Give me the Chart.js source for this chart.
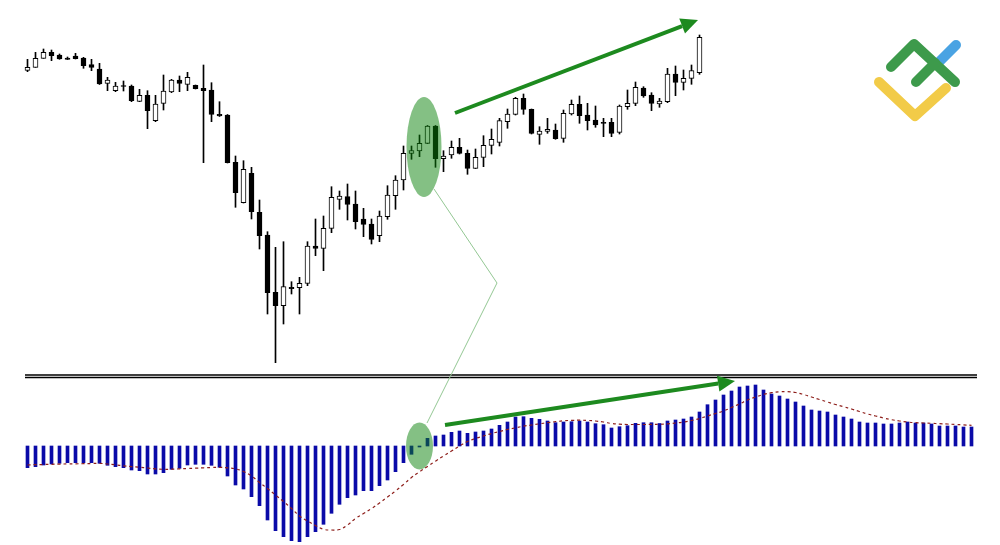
<!DOCTYPE html>
<html>
<head>
<meta charset="utf-8">
<script src="https://cdn.jsdelivr.net/npm/chart.js@4.4.1/dist/chart.umd.min.js"></script>
<style>
  html, body { margin: 0; padding: 0; background: #ffffff; }
  canvas { display: block; }
</style>
</head>
<body>
<canvas id="chart" width="1000" height="545"></canvas>
<script>
// candles (price points)
const open = [
  329.7, 332.7, 341.7, 347.7, 345, 342, 344, 342, 335.3, 331,
  316.7, 309.3, 314.5, 314, 298.7, 304.7, 279.3, 296.7, 308, 320,
  315.7, 314.7, 311.7, 310, 285.7, 285, 237.7, 197.3, 226.7, 187.7,
  165, 107.7, 94.3, 112.7, 112.3, 116.7, 154, 151.7, 171.7, 200.7,
  203.3, 196, 181, 176, 164.3, 183.3, 204.3, 220, 246.7, 249,
  256.7, 274, 241.3, 245, 252.7, 246.7, 231.7, 242.7, 254.7, 257.7,
  278.3, 285.7, 301.7, 290.7, 265.7, 268.5, 270, 261.7, 286, 295.7,
  285, 280, 277.7, 277.7, 267.7, 293.3, 296.7, 312, 305, 296,
  298.3, 326, 317.7, 321.7, 327.3
];
const high = [
  340.7, 347.7, 351, 350, 346, 343, 346.7, 342.7, 340.7, 336.7,
  322.7, 317.7, 319, 315, 310.7, 309.3, 304.7, 325, 320.7, 324,
  327.7, 315, 335, 317.3, 298.3, 285.5, 244, 239.3, 232.7, 200,
  168.3, 152.7, 158.3, 118.3, 122.7, 158.3, 181, 184, 213.3, 209,
  216, 209, 191.7, 181, 189, 214.3, 224.3, 254, 254, 265,
  274.5, 274.5, 249.3, 259, 261.7, 250, 251, 264.3, 271, 281.7,
  291, 302.7, 306, 291, 273.3, 281.7, 276, 290, 300, 304,
  296.7, 294, 281.7, 281.7, 295, 310, 318, 313.3, 307.3, 301.7,
  331.7, 334, 330, 335, 365
];
const low = [
  328.3, 332.7, 341.7, 339.3, 340.7, 340.5, 341, 331.7, 329.3, 315.5,
  309.3, 308.3, 309, 298.3, 298.3, 271.3, 278.3, 290, 307.3, 308.3,
  309.3, 311, 237.3, 278.3, 283.5, 237, 192.7, 197, 181, 151,
  86, 37.3, 76, 106, 86, 114.3, 144.3, 129.3, 167.3, 190.7,
  180, 171, 163.3, 156, 158.3, 180.7, 190.7, 210, 240.7, 243.3,
  256.5, 232.7, 228.3, 241.7, 246, 225.7, 231.5, 233.3, 246, 254,
  271.7, 285, 285.7, 266, 255.7, 266.7, 260.7, 257.7, 285, 276.7,
  270, 272.7, 263.3, 263.3, 266, 290.7, 294.3, 302.7, 289.3, 292.7,
  297.3, 304.3, 310, 315.7, 325.7
];
const close = [
  332.7, 341.7, 347.7, 344.3, 341, 340.7, 341.3, 334.3, 332.7, 316,
  320, 314, 313.5, 299.3, 304.7, 289.3, 296, 309, 320, 316.7,
  322.7, 311.3, 309.3, 285.7, 284, 237.3, 207.3, 230.7, 188.3, 164.3,
  107.3, 94.3, 113.3, 111.3, 116.7, 154, 151.7, 171.7, 202.7, 204,
  195.7, 178.3, 175.7, 160.7, 184, 205, 220, 246.7, 249.3, 256.7,
  274, 241.3, 244, 252.7, 246.7, 231.7, 242.7, 254.7, 260.7, 279.3,
  286, 301.7, 290.7, 266.7, 269, 270.7, 261.3, 286.7, 295.7, 284.3,
  279.3, 275, 276.7, 266.7, 294, 296.7, 312.7, 304, 296.7, 299,
  326, 317.7, 321.7, 329.3, 362.7
];

// MACD histogram and signal line
const macd = [
  -21.7, -20.7, -19, -18, -17.3, -16.7, -16.7, -16.7, -16.7, -17.3,
  -19.3, -20.7, -21.7, -24, -24.7, -28, -28, -26.7, -23.3, -22.3,
  -19, -18.3, -18.3, -19.3, -21.3, -30, -39, -43, -50.7, -59.7,
  -74, -84.7, -90.7, -94.7, -95.7, -90.7, -85.7, -78.3, -67.3, -58.3,
  -51.7, -49, -44.7, -44.7, -39.7, -34, -25.7, -16.7, -8.3, -1,
  7.7, 10, 11, 13.7, 15, 12.7, 14, 15, 17, 20.7,
  24, 29, 29.3, 27.7, 26.7, 25, 23.3, 24, 24.3, 25,
  24, 22.3, 21.3, 18, 19.3, 20.3, 22.7, 23.3, 23.3, 22.5,
  25, 26, 27, 29, 34, 41.3, 46, 51, 55, 59,
  60, 61, 56, 52, 50, 47, 44, 40, 36, 35,
  34, 31, 29, 27, 24, 23, 23, 22, 22, 23,
  24, 23, 23, 22, 20, 20, 20, 19, 19
];
const signal = [
  -19, -18.7, -18.5, -18.3, -18.1, -17.9, -17.8, -17.7, -17.5, -17.3,
  -18, -18.8, -19.8, -20.6, -21.3, -22, -22.8, -23.3, -23.2, -22.9,
  -22.5, -22.2, -21.8, -21.5, -21.4, -21.8, -22.8, -25.5, -30, -36.5,
  -42.5, -49, -55.5, -62.5, -70, -75, -79.5, -83.3, -84, -83.5,
  -79, -72.5, -67.5, -62.5, -57, -51, -45, -38.5, -31.5, -25.8,
  -20.5, -15.2, -10, -5, 0, 4.5, 7.5, 10, 12.5, 14.5,
  16.5, 18.2, 19.8, 21, 22.2, 23.3, 24.3, 25.2, 25.6, 25.8,
  25.6, 25, 24, 22.5, 21.8, 21.5, 21.5, 21.5, 21.6, 21.7,
  22.2, 23, 24, 25.5, 27.5, 30, 32.5, 35, 38.5, 42,
  46, 49, 51.5, 53.3, 54.2, 54.3, 53.5, 51.5, 49, 46.5,
  44, 41.5, 39.3, 37, 34.5, 32, 30, 28, 26.3, 25,
  24, 23.3, 23, 22.7, 22.3, 22, 21.5, 21.1, 20.7
];

const bars = macd.map((v, i) => String(i + 1));

// trend arrows and markers drawn on top
const GREEN = '#1d8a1f';

function arrow(ctx, x1, y1, x2, y2) {
  const ang = Math.atan2(y2 - y1, x2 - x1);
  const len = 17, half = 8;
  const bx = x2 - len * Math.cos(ang), by = y2 - len * Math.sin(ang);
  ctx.strokeStyle = GREEN;
  ctx.fillStyle = GREEN;
  ctx.lineWidth = 4;
  ctx.lineCap = 'butt';
  ctx.beginPath();
  ctx.moveTo(x1, y1);
  ctx.lineTo(bx, by);
  ctx.stroke();
  ctx.beginPath();
  ctx.moveTo(x2, y2);
  ctx.lineTo(bx + half * Math.sin(ang), by - half * Math.cos(ang));
  ctx.lineTo(bx - half * Math.sin(ang), by + half * Math.cos(ang));
  ctx.closePath();
  ctx.fill();
}

function ellipse(ctx, cx, cy, rx, ry) {
  ctx.fillStyle = 'rgba(10,130,10,0.5)';
  ctx.beginPath();
  ctx.ellipse(cx, cy, rx, ry, 0, 0, Math.PI * 2);
  ctx.fill();
}

function logo(ctx) {
  ctx.save();
  ctx.lineCap = 'round';
  ctx.lineJoin = 'round';
  ctx.lineWidth = 10;
  ctx.strokeStyle = '#4aa3e3';
  ctx.beginPath(); ctx.moveTo(956, 45); ctx.lineTo(936, 65); ctx.stroke();
  ctx.strokeStyle = '#f2cb48';
  ctx.beginPath(); ctx.moveTo(879, 82); ctx.lineTo(915, 116); ctx.lineTo(946, 88); ctx.stroke();
  ctx.strokeStyle = '#3d9a4b';
  ctx.beginPath(); ctx.moveTo(891, 67); ctx.lineTo(914, 44); ctx.lineTo(955, 82); ctx.stroke();
  ctx.beginPath(); ctx.moveTo(916, 82); ctx.lineTo(935, 63); ctx.stroke();
  ctx.restore();
}

const overlay = {
  id: 'overlay',
  afterDatasetsDraw(chart) {
    const ctx = chart.ctx;
    ctx.save();
    // panel separator
    ctx.strokeStyle = '#000000';
    ctx.lineWidth = 1.5;
    ctx.beginPath();
    ctx.moveTo(25, 375); ctx.lineTo(977, 375);
    ctx.moveTo(25, 377.5); ctx.lineTo(977, 377.5);
    ctx.stroke();

    ellipse(ctx, 424, 147, 17.5, 50);
    ellipse(ctx, 419.5, 446, 13.5, 23.5);

    ctx.strokeStyle = '#93c793';
    ctx.lineWidth = 1;
    ctx.beginPath();
    ctx.moveTo(434, 189);
    ctx.lineTo(497, 283);
    ctx.lineTo(427, 423);
    ctx.stroke();

    arrow(ctx, 455, 113, 698, 20);
    arrow(ctx, 445, 425, 735, 381);
    logo(ctx);
    ctx.restore();
  }
};

new Chart(document.getElementById('chart'), {
  data: {
    labels: bars,
    datasets: [
      {
        type: 'bar',
        yAxisID: 'yPrice',
        data: open.map((o, i) => [low[i], high[i]]),
        backgroundColor: '#000000',
        barThickness: 1,
        grouped: false,
        clip: false,
        order: 4
      },
      {
        type: 'bar',
        yAxisID: 'yPrice',
        data: open.map((o, i) => [o, close[i]]),
        backgroundColor: open.map((o, i) => close[i] >= o ? '#ffffff' : '#000000'),
        borderColor: '#000000',
        borderWidth: 1,
        borderSkipped: false,
        barThickness: 5,
        grouped: false,
        clip: false,
        order: 3
      },
      {
        type: 'bar',
        yAxisID: 'yMacd',
        data: macd,
        backgroundColor: '#0a0aa8',
        barThickness: 3,
        grouped: false,
        clip: false,
        order: 2
      },
      {
        type: 'line',
        yAxisID: 'yMacd',
        data: signal,
        borderColor: '#8e1f1b',
        borderWidth: 1.2,
        borderDash: [3, 3],
        pointRadius: 0,
        tension: 0.4,
        fill: false,
        clip: false,
        order: 1
      }
    ]
  },
  options: {
    responsive: false,
    devicePixelRatio: 1,
    animation: false,
    layout: { padding: { left: 27.5, right: 28.5, top: 0, bottom: 0 } },
    plugins: {
      legend: { display: false },
      tooltip: { enabled: false }
    },
    scales: {
      x: { type: 'category', offset: false, display: false, grid: { display: false } },
      yPrice: { display: false, min: -145, max: 400 },
      yMacd: { display: false, min: -99, max: 446 }
    }
  },
  plugins: [overlay]
});
</script>
</body>
</html>
